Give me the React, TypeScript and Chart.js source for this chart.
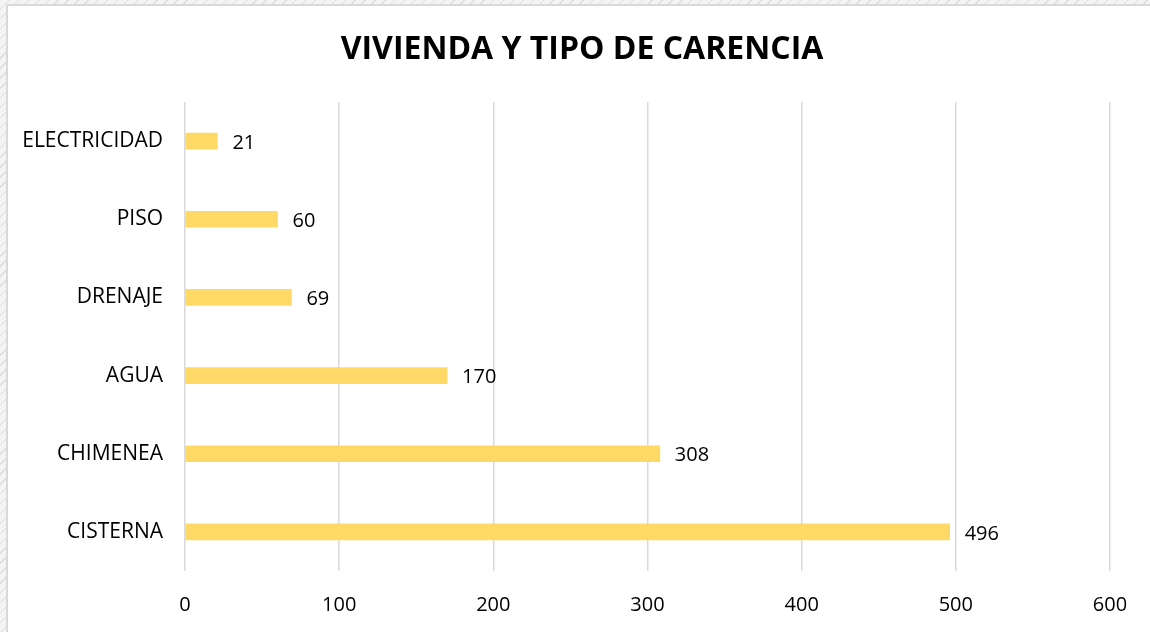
import React, { useEffect, useRef } from "react";
import { Chart, registerables } from "chart.js";

Chart.register(...registerables);

const categories = ["ELECTRICIDAD", "PISO", "DRENAJE", "AGUA", "CHIMENEA", "CISTERNA"];
const values = [21, 60, 69, 170, 308, 496];
const xTicks = [0, 100, 200, 300, 400, 500, 600];
const title = "VIVIENDA Y TIPO DE CARENCIA";

const FONT = "'Open Sans', sans-serif";

const valueLabels = {
  id: "valueLabels",
  afterDatasetsDraw(chart: any) {
    const ctx = chart.ctx;
    const meta = chart.getDatasetMeta(0);
    ctx.save();
    ctx.font = `20px ${FONT}`;
    ctx.fillStyle = "#000000";
    ctx.textAlign = "left";
    ctx.textBaseline = "middle";
    meta.data.forEach((bar: any, i: number) => {
      ctx.fillText(String(values[i]), bar.x + 15, bar.y + 2);
    });
    ctx.restore();
  },
};

const titlePlugin = {
  id: "centeredTitle",
  afterDraw(chart: any) {
    const ctx = chart.ctx;
    ctx.save();
    ctx.font = `bold 32px ${FONT}`;
    ctx.fillStyle = "#000000";
    ctx.textAlign = "center";
    ctx.textBaseline = "middle";
    ctx.fillText(title, 582, 50);
    ctx.restore();
  },
};

export default function App() {
  const ref = useRef<HTMLCanvasElement>(null);
  useEffect(() => {
    document.body.style.margin = "0";
    const chart = new Chart(ref.current!, {
      type: "bar",
      data: {
        labels: categories,
        datasets: [
          {
            data: values,
            backgroundColor: "#FFD966",
            barThickness: 16,
          },
        ],
      },
      options: {
        indexAxis: "y",
        animation: false,
        responsive: false,
        layout: { padding: { left: 0, right: 40, top: 102, bottom: 0 } },
        plugins: {
          legend: { display: false },
          tooltip: { enabled: false },
          title: { display: false },
        },
        scales: {
          x: {
            min: 0,
            max: 600,
            afterBuildTicks: (scale: any) => {
              scale.ticks = xTicks.map((v) => ({ value: v }));
            },
            afterFit: (scale: any) => {
              scale.height = 61;
            },
            grid: { color: "#d9d9d9", lineWidth: 1.5, drawTicks: false },
            border: { display: false },
            ticks: {
              color: "#000000",
              font: { family: FONT, size: 20 },
              padding: 22,
            },
          },
          y: {
            grid: { display: false, drawTicks: false },
            border: { display: false },
            afterFit: (scale: any) => {
              scale.width = 185;
            },
            ticks: {
              color: "#000000",
              font: { family: FONT, size: 21 },
              padding: 22,
            },
          },
        },
      },
      plugins: [valueLabels, titlePlugin],
    });
    return () => chart.destroy();
  }, []);

  return (
    <div
      style={{
        position: "relative",
        width: 1150,
        height: 632,
        overflow: "hidden",
        background:
          "repeating-linear-gradient(135deg, #f4f4f4 0px, #f4f4f4 6px, #dcdcdc 6px, #dcdcdc 7px)",
      }}
    >
      <div
        style={{
          position: "absolute",
          left: 6,
          top: 4,
          width: 1150,
          height: 640,
          background: "#ffffff",
          borderLeft: "2px solid #d9d9d9",
          borderTop: "2px solid #d9d9d9",
        }}
      />
      <canvas
        ref={ref}
        width={1150}
        height={632}
        style={{ position: "absolute", left: 0, top: 0, width: 1150, height: 632 }}
      />
    </div>
  );
}
